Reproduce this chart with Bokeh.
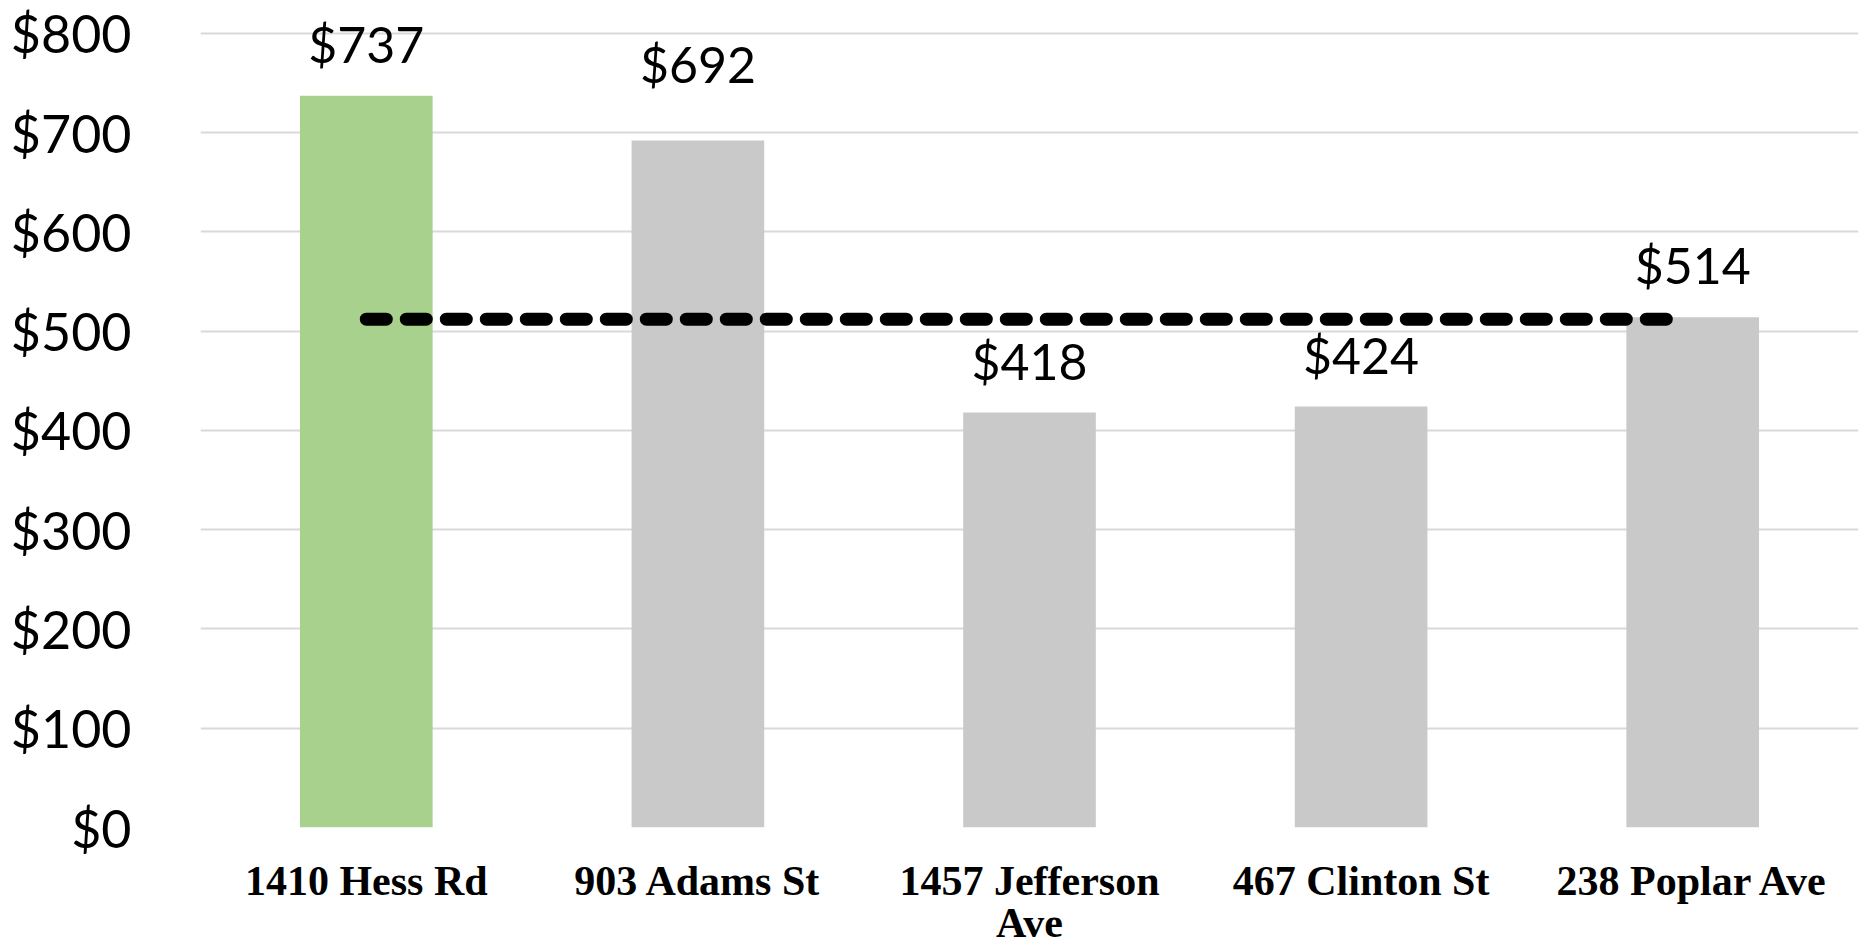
from bokeh.plotting import figure
from bokeh.models import Range1d, FactorRange, FixedTicker, NumeralTickFormatter, ColumnDataSource
from bokeh.core.properties import value
from bokeh.transform import dodge
from bokeh.embed import file_html
from bokeh.resources import INLINE

# ---- data ----
categories = ["1410 Hess Rd", "903 Adams St", "1457 Jefferson\nAve", "467 Clinton St", "238 Poplar Ave"]
rents = [737, 692, 418, 424, 514]
benchmark = 512
y_ticks = [0, 100, 200, 300, 400, 500, 600, 700, 800]

# ---- styles ----
bar_colors = ["#A9D18E", "#C9C9C9", "#C9C9C9", "#C9C9C9", "#C9C9C9"]
label_dy = [-52, -76, -52, -52, -52]

W, H = 1864, 948
p = figure(width=W, height=H, output_backend="svg", toolbar_location=None,
           x_range=FactorRange(*categories), y_range=Range1d(0, 833),
           min_border_left=200, min_border_right=6, min_border_top=0, min_border_bottom=121)
p.outline_line_color = None
p.background_fill_color = "white"
p.border_fill_color = "white"

src = ColumnDataSource(dict(cat=categories, val=rents, color=bar_colors,
                            label=["$%d" % v for v in rents], dy=label_dy))
p.vbar(x="cat", top="val", width=0.4, fill_color="color", line_color=None, source=src)

line_src = ColumnDataSource(dict(x0=[categories[0]], x1=[categories[-1]],
                                 y0=[benchmark], y1=[benchmark]))
p.segment(x0="x0", y0="y0", x1=dodge("x1", -0.06, range=p.x_range), y1="y1",
          source=line_src, line_color="black", line_width=13,
          line_dash="20 20", line_cap="round")

p.text(x="cat", y="val", text="label", source=src, text_align="center",
       text_baseline="alphabetic", y_offset="dy", text_font=value("Lato"),
       text_font_size="50px", text_color="black")

# grid
p.xgrid.grid_line_color = None
p.ygrid.grid_line_color = "#D9D9D9"
p.ygrid.grid_line_width = 2
p.ygrid.ticker = FixedTicker(ticks=y_ticks)

# y axis
p.yaxis.ticker = FixedTicker(ticks=y_ticks)
p.yaxis.formatter = NumeralTickFormatter(format="$0,0")
p.yaxis.axis_line_color = None
p.yaxis.major_tick_line_color = None
p.yaxis.minor_tick_line_color = None
p.yaxis.major_label_standoff = 63
p.yaxis.major_label_text_font = "Lato"
p.yaxis.major_label_text_font_size = "52px"
p.yaxis.major_label_text_color = "black"

# x axis
p.xaxis.axis_line_color = None
p.xaxis.major_tick_line_color = None
p.xaxis.minor_tick_line_color = None
p.xaxis.major_label_standoff = 24
p.xaxis.major_label_text_font = "Liberation Serif"
p.xaxis.major_label_text_font_style = "bold"
p.xaxis.major_label_text_font_size = "42px"
p.xaxis.major_label_text_color = "black"
p.xaxis.major_label_text_line_height = 0.92

open("out.html", "w").write(file_html(p, INLINE))
